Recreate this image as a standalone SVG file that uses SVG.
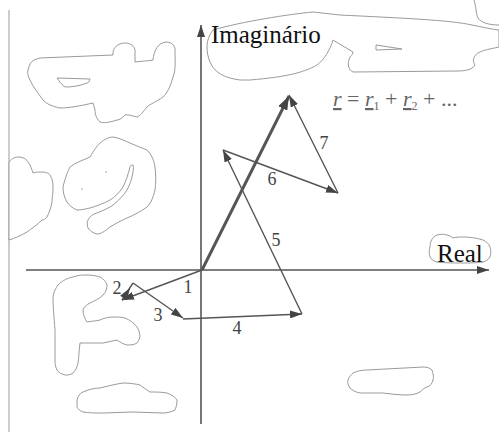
<svg xmlns="http://www.w3.org/2000/svg" width="499" height="432" viewBox="0 0 499 432">
<style>
.blob{fill:#fff;stroke:#9a9a9a;stroke-width:1}
.axis{stroke:#555;stroke-width:1.6;fill:none}
.vec{stroke:#555;stroke-width:1.4;fill:none}
.res{stroke:#555;stroke-width:3;fill:none}
text{font-family:'Liberation Serif','DejaVu Serif',serif}
.lbl{font-size:18px;fill:#444;text-anchor:middle}
.big{font-size:25px;fill:#111}
.frm{font-size:22px;fill:#666}
</style>
<defs>
<marker id="ah" viewBox="0 0 12 8" refX="12" refY="4" markerWidth="12" markerHeight="8" markerUnits="userSpaceOnUse" orient="auto"><path d="M0,0 L12,4 L0,8 z" fill="#444"/></marker>
<marker id="ahb" viewBox="0 0 14 10" refX="14" refY="5" markerWidth="14" markerHeight="10" markerUnits="userSpaceOnUse" orient="auto"><path d="M0,0 L14,5 L0,10 z" fill="#444"/></marker>
</defs>
<rect width="499" height="432" fill="#fff"/>
<line x1="9" y1="10" x2="9" y2="432" stroke="#9a9a9a" stroke-width="1"/>
<g id="blobs">
<path class="blob" d="M28,70 C30,62 32,60 40,58 L113,55 C112,48 118,43 125,43 C132,43 136,48 135,53 L135,62 C142,61 148,61 153,60 C154,50 158,43 166,42 C172,42 176,46 175,52 C175,62 176,70 173,77 C170,88 167,93 163,97 C156,102 150,104 147,107 C143,112 140,116 137,117 C132,116 128,114 125,115 C122,118 120,120 117,120 C108,123 103,123 100,122 C96,118 95,114 95,110 L93,103 C80,106 68,108 60,108 C50,106 46,103 43,100 C38,93 33,87 30,80 C28,76 27,73 28,70 Z"/>
<path class="blob" d="M57,78 L90,79 C89,82 88,83 87,83 C80,86 72,87 65,87 C61,84 59,81 57,78 Z"/>
<path class="blob" d="M9,162 C12,158 16,157 18,157 C24,157 27,160 28,162 C31,166 32,170 33,173 C36,172 38,172 40,172 C46,172 49,173 50,175 C53,180 53,184 53,188 C53,194 52,198 52,202 C51,208 49,213 47,217 C45,219 44,220 42,220 C37,225 31,229 27,232 C20,236 15,238 9,240 Z"/>
<path class="blob" d="M63,187 C65,178 68,171 70,167 C76,162 84,160 90,157 C94,150 97,146 100,143 C105,139 109,137 113,137 C120,138 125,141 130,143 C137,146 142,148 147,150 C152,155 154,161 155,167 C156,175 156,183 155,190 C153,198 151,203 147,207 C140,212 134,215 127,218 C120,221 115,224 110,227 C105,231 101,234 97,234 C93,233 90,231 88,228 C87,225 87,222 88,220 C90,216 93,214 97,213 C104,210 109,208 113,205 C119,200 124,195 127,190 C130,184 131,181 132,177 C133,172 134,168 133,165 C131,165 130,166 130,167 C128,175 126,181 123,187 C119,193 115,197 110,200 C103,204 96,206 90,208 C85,209 81,210 77,210 C72,208 69,205 67,202 C64,197 63,192 63,187 Z"/>
<circle cx="106" cy="172" r="0.7" fill="#888"/>
<circle cx="82" cy="189" r="0.7" fill="#888"/>
<path class="blob" d="M53,297 C54,291 56,288 58,285 C63,280 68,278 73,277 C78,275 83,275 87,275 C92,275 97,276 100,277 C104,279 106,282 107,285 C107,289 106,292 103,295 C99,299 94,301 90,303 C86,305 84,307 83,310 C83,315 85,319 87,322 C92,321 96,321 100,320 C104,318 109,317 113,317 C118,317 122,317 125,318 C130,320 134,323 137,327 C139,330 140,334 140,337 C139,340 138,342 137,343 C134,345 130,345 127,345 C123,344 120,342 117,340 C112,341 108,342 103,343 C95,343 87,343 80,343 C79,350 79,357 78,363 C77,368 75,371 73,373 C70,375 68,375 65,375 C61,374 58,372 57,370 C55,366 55,363 55,360 L55,330 C54,318 53,305 53,297 Z"/>
<path class="blob" d="M77,400 C78,396 80,393 83,392 C90,389 95,388 100,388 C108,386 116,384 123,383 C130,383 136,384 140,385 C144,388 147,390 150,392 C156,392 162,392 167,393 C172,395 175,397 177,400 C177,404 176,408 175,410 C171,412 167,413 163,413 C153,413 143,412 133,412 C123,412 113,413 103,413 C96,413 89,413 83,412 C80,411 78,409 77,407 Z"/>
<path class="blob" d="M348,380 C349,377 351,375 353,373 C357,371 362,370 367,370 C385,369 405,368 423,367 C427,367 430,368 432,370 C433,373 434,377 433,380 C432,384 430,386 427,387 C424,388 422,390 420,392 C416,394 412,395 407,395 C399,395 391,394 383,393 C375,393 367,393 360,393 C355,392 352,390 350,388 C348,385 347,382 348,380 Z"/>
<path class="blob" d="M430,247 C430,242 432,237 437,235 C441,234 444,234 447,235 C450,236 452,237 453,238 C457,237 460,237 463,237 C470,237 477,238 483,240 C487,242 489,244 490,247 C491,250 491,254 490,257 C488,260 486,261 483,262 C476,263 470,263 463,263 C455,263 446,263 437,262 C433,261 431,259 430,257 C429,254 429,250 430,247 Z"/>
<path class="blob" d="M213,30 C240,22 290,14 313,12 L340,15 C400,18 450,20 472,25 C482,27 490,29 499,30 L499,47 C490,49 484,50 480,52 C473,55 472,61 475,65 C472,70 465,71 457,71 L353,72 C348,70 347,63 350,57 C352,55 353,54 353,52 L333,40 C330,50 324,60 317,65 C303,73 285,77 250,80 L240,80 C226,78 215,74 210,62 C206,52 205,40 213,30 Z"/>
<path class="blob" d="M376,45 L402,49 L376,50 Z"/>
<path class="blob" d="M474,0 C476,6 476,14 478,18 C481,23 490,25 499,25"/>
</g>
<g id="axes">
<line class="axis" x1="201" y1="424" x2="201" y2="25" marker-end="url(#ah)"/>
<line class="axis" x1="26" y1="270" x2="489" y2="270" marker-end="url(#ah)"/>
</g>
<g id="connectors">
<line id="v1" class="vec" x1="202" y1="270" x2="122" y2="300" marker-end="url(#ah)"/>
<g id="v2"><line class="vec" x1="122" y1="300" x2="133" y2="283"/><polygon points="130,288 126.9,300.2 120.1,295.8" fill="#444"/></g>
<line id="v3" class="vec" x1="133" y1="283" x2="183" y2="318" marker-end="url(#ah)"/>
<line id="v4" class="vec" x1="183" y1="319" x2="302" y2="314" marker-end="url(#ah)"/>
<line id="v5" class="vec" x1="302" y1="314" x2="223" y2="150" marker-end="url(#ah)"/>
<line id="v6" class="vec" x1="223" y1="150" x2="338" y2="193" marker-end="url(#ah)"/>
<line id="v7" class="vec" x1="338" y1="193" x2="289" y2="95" marker-end="url(#ah)"/>
<line id="vr" class="res" x1="202" y1="270" x2="289" y2="96" marker-end="url(#ahb)"/>
</g>
<g id="labels">
<text class="lbl" x="188" y="293" font-family="Liberation Serif, serif">1</text>
<text class="lbl" x="117" y="294" font-family="Liberation Serif, serif">2</text>
<text class="lbl" x="158" y="321" font-family="Liberation Serif, serif">3</text>
<text class="lbl" x="237" y="334" font-family="Liberation Serif, serif">4</text>
<text class="lbl" x="276" y="246" font-family="Liberation Serif, serif">5</text>
<text class="lbl" x="272" y="185" font-family="Liberation Serif, serif">6</text>
<text class="lbl" x="324" y="149" font-family="Liberation Serif, serif">7</text>
<text class="big" x="211" y="43" font-family="Liberation Serif, serif">Imaginário</text>
<text class="big" x="437" y="262" font-family="Liberation Serif, serif">Real</text>
<text class="frm" x="333" y="106" font-family="Liberation Serif, serif"><tspan font-style="italic" text-decoration="underline">r</tspan> = <tspan font-style="italic" text-decoration="underline">r</tspan><tspan font-size="12" dy="4">1</tspan><tspan dy="-4"> + </tspan><tspan font-style="italic" text-decoration="underline">r</tspan><tspan font-size="12" dy="4">2</tspan><tspan dy="-4"> + ...</tspan></text>
</g>
</svg>
